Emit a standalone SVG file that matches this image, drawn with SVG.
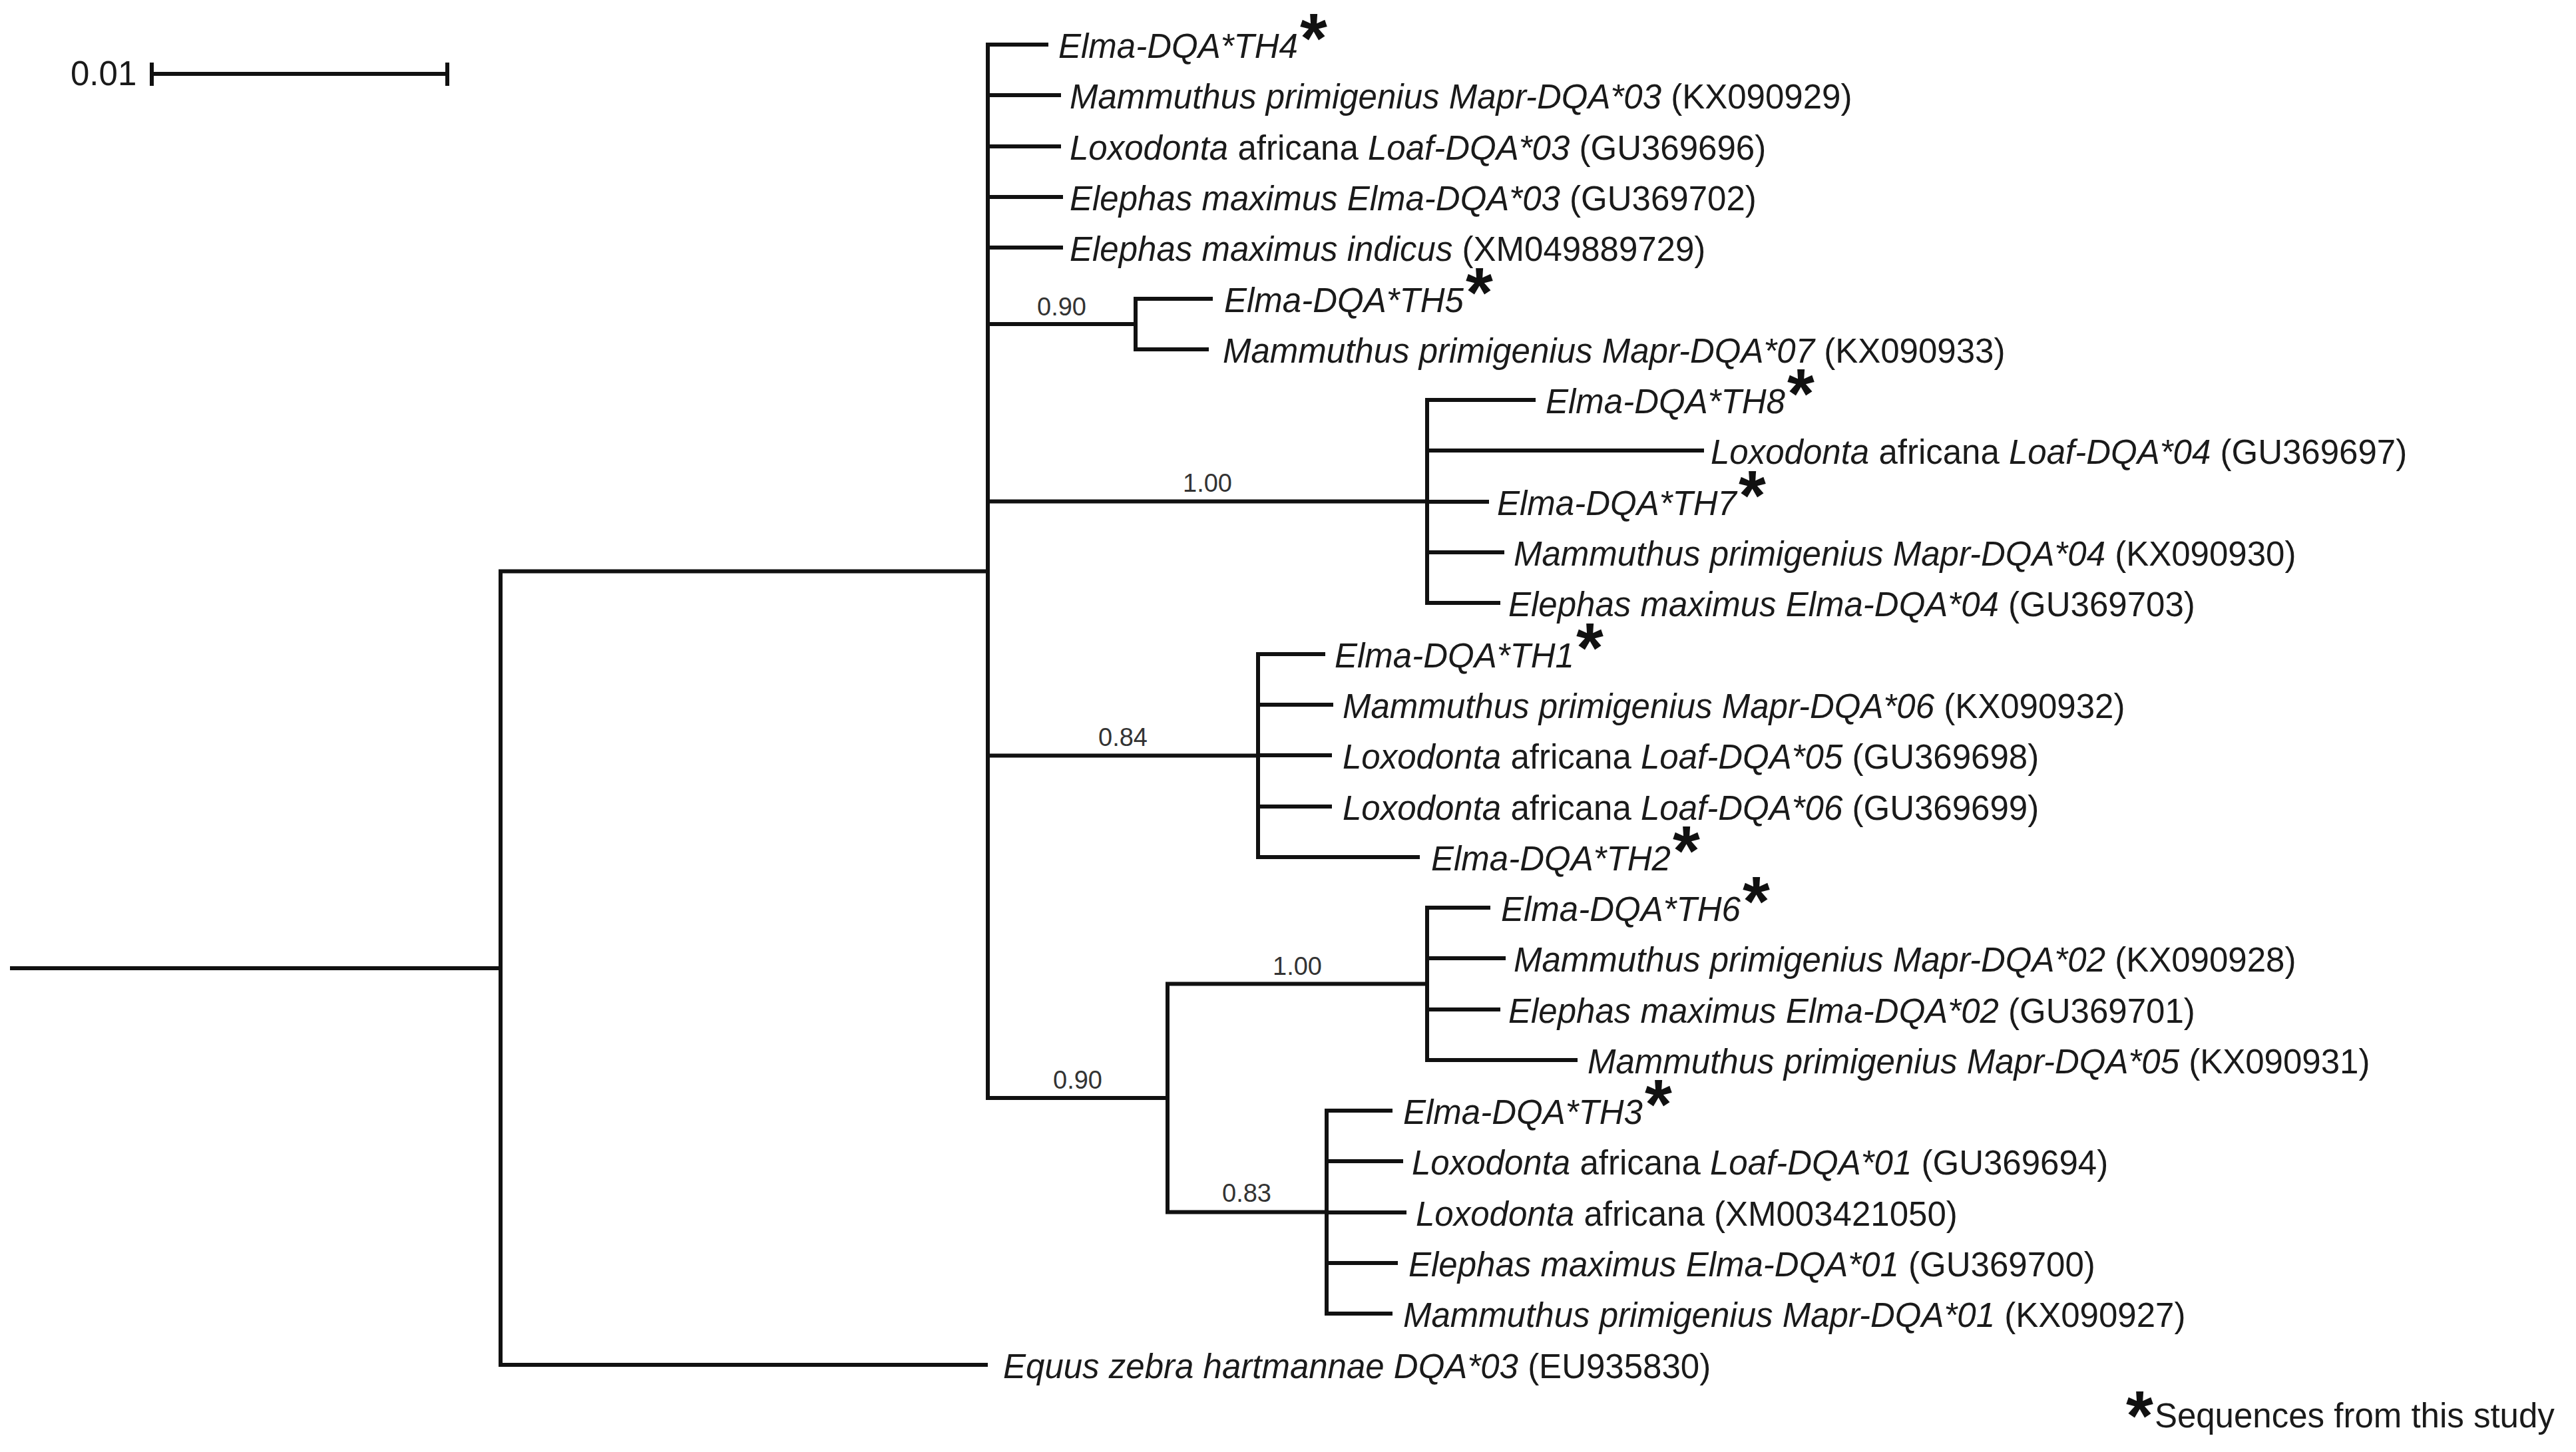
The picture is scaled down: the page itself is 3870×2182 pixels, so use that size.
<svg xmlns="http://www.w3.org/2000/svg" width="3870" height="2182" viewBox="0 0 3870 2182">
<style>
.br{fill:none;stroke:#111;stroke-width:6;stroke-linejoin:miter;stroke-linecap:butt}
.lb{font-family:"Liberation Sans",Arial,sans-serif;font-size:51px;fill:#1a1a1a}
.i{font-style:italic}
.st{font-family:"Liberation Sans",Arial,sans-serif;font-weight:bold;font-size:105px;fill:#111}
.bs{font-family:"Liberation Sans",Arial,sans-serif;font-size:38px;fill:#333;text-anchor:middle}
</style>
<rect width="3870" height="2182" fill="#fff"/>
<g id="scale">
<path class="br" d="M228,111 H672 M228,94 V129 M672,94 V129"/>
<text class="lb" x="106" y="128" font-size="48">0.01</text>
</g>
<g id="connectors">
<path class="br" d="M15,1455 H752"/>
<path class="br" d="M1484,858.5 H752 V2051 H1484"/>
<path class="br" d="M1575,67 H1484 V1650 H1754"/>
<path class="br" d="M1484,143 H1594 M1484,220 H1594 M1484,296 H1597 M1484,372 H1597 M1484,487 H1706 M1484,753.5 H2144 M1484,1135.5 H1890"/>
<path class="br" d="M1822,449 H1706 V525 H1816"/>
<path class="br" d="M2307,601 H2144 V906 H2254 M2144,677 H2560 M2144,754 H2237 M2144,830 H2260"/>
<path class="br" d="M1991,983 H1890 V1288 H2133 M1890,1059 H2003 M1890,1135 H2001 M1890,1212 H2001"/>
<path class="br" d="M2144,1478.5 H1754 V1821.5 H1993"/>
<path class="br" d="M2239,1364 H2144 V1593 H2370 M2144,1440 H2262 M2144,1517 H2254"/>
<path class="br" d="M2092,1669 H1993 V1974 H2092 M1993,1745 H2108 M1993,1822 H2113 M1993,1898 H2100"/>
</g>
<g id="support">
<text class="bs" x="1595" y="474">0.90</text>
<text class="bs" x="1814" y="739">1.00</text>
<text class="bs" x="1687" y="1121">0.84</text>
<text class="bs" x="1949" y="1465">1.00</text>
<text class="bs" x="1619" y="1636">0.90</text>
<text class="bs" x="1873" y="1806">0.83</text>
</g>
<g id="leaf-TH4"><text class="lb" x="1590" y="87"><tspan class="i">Elma-DQA*TH4</tspan><tspan class="st" dx="3" dy="7">*</tspan></text></g>
<g id="leaf-Mapr03"><text class="lb" x="1607" y="163"><tspan class="i">Mammuthus primigenius Mapr-DQA*03</tspan> (KX090929)</text></g>
<g id="leaf-Loaf03"><text class="lb" x="1607" y="240"><tspan class="i">Loxodonta</tspan> africana <tspan class="i">Loaf-DQA*03</tspan> (GU369696)</text></g>
<g id="leaf-Elma03"><text class="lb" x="1607" y="316"><tspan class="i">Elephas maximus Elma-DQA*03</tspan> (GU369702)</text></g>
<g id="leaf-indicus"><text class="lb" x="1607" y="392"><tspan class="i">Elephas maximus indicus</tspan> (XM049889729)</text></g>
<g id="leaf-TH5"><text class="lb" x="1839" y="469"><tspan class="i">Elma-DQA*TH5</tspan><tspan class="st" dx="3" dy="7">*</tspan></text></g>
<g id="leaf-Mapr07"><text class="lb" x="1837" y="545"><tspan class="i">Mammuthus primigenius Mapr-DQA*07</tspan> (KX090933)</text></g>
<g id="leaf-TH8"><text class="lb" x="2322" y="621"><tspan class="i">Elma-DQA*TH8</tspan><tspan class="st" dx="3" dy="7">*</tspan></text></g>
<g id="leaf-Loaf04"><text class="lb" x="2570" y="697"><tspan class="i">Loxodonta</tspan> africana <tspan class="i">Loaf-DQA*04</tspan> (GU369697)</text></g>
<g id="leaf-TH7"><text class="lb" x="2249" y="774"><tspan class="i">Elma-DQA*TH7</tspan><tspan class="st" dx="3" dy="7">*</tspan></text></g>
<g id="leaf-Mapr04"><text class="lb" x="2274" y="850"><tspan class="i">Mammuthus primigenius Mapr-DQA*04</tspan> (KX090930)</text></g>
<g id="leaf-Elma04"><text class="lb" x="2266" y="926"><tspan class="i">Elephas maximus Elma-DQA*04</tspan> (GU369703)</text></g>
<g id="leaf-TH1"><text class="lb" x="2005" y="1003"><tspan class="i">Elma-DQA*TH1</tspan><tspan class="st" dx="3" dy="7">*</tspan></text></g>
<g id="leaf-Mapr06"><text class="lb" x="2017" y="1079"><tspan class="i">Mammuthus primigenius Mapr-DQA*06</tspan> (KX090932)</text></g>
<g id="leaf-Loaf05"><text class="lb" x="2017" y="1155"><tspan class="i">Loxodonta</tspan> africana <tspan class="i">Loaf-DQA*05</tspan> (GU369698)</text></g>
<g id="leaf-Loaf06"><text class="lb" x="2017" y="1232"><tspan class="i">Loxodonta</tspan> africana <tspan class="i">Loaf-DQA*06</tspan> (GU369699)</text></g>
<g id="leaf-TH2"><text class="lb" x="2150" y="1308"><tspan class="i">Elma-DQA*TH2</tspan><tspan class="st" dx="3" dy="7">*</tspan></text></g>
<g id="leaf-TH6"><text class="lb" x="2255" y="1384"><tspan class="i">Elma-DQA*TH6</tspan><tspan class="st" dx="3" dy="7">*</tspan></text></g>
<g id="leaf-Mapr02"><text class="lb" x="2274" y="1460"><tspan class="i">Mammuthus primigenius Mapr-DQA*02</tspan> (KX090928)</text></g>
<g id="leaf-Elma02"><text class="lb" x="2266" y="1537"><tspan class="i">Elephas maximus Elma-DQA*02</tspan> (GU369701)</text></g>
<g id="leaf-Mapr05"><text class="lb" x="2385" y="1613"><tspan class="i">Mammuthus primigenius Mapr-DQA*05</tspan> (KX090931)</text></g>
<g id="leaf-TH3"><text class="lb" x="2108" y="1689"><tspan class="i">Elma-DQA*TH3</tspan><tspan class="st" dx="3" dy="7">*</tspan></text></g>
<g id="leaf-Loaf01"><text class="lb" x="2121" y="1765"><tspan class="i">Loxodonta</tspan> africana <tspan class="i">Loaf-DQA*01</tspan> (GU369694)</text></g>
<g id="leaf-XM003421050"><text class="lb" x="2127" y="1842"><tspan class="i">Loxodonta</tspan> africana (XM003421050)</text></g>
<g id="leaf-Elma01"><text class="lb" x="2116" y="1918"><tspan class="i">Elephas maximus Elma-DQA*01</tspan> (GU369700)</text></g>
<g id="leaf-Mapr01"><text class="lb" x="2108" y="1994"><tspan class="i">Mammuthus primigenius Mapr-DQA*01</tspan> (KX090927)</text></g>
<g id="leaf-Equus"><text class="lb" x="1507" y="2071"><tspan class="i">Equus zebra hartmannae DQA*03</tspan> (EU935830)</text></g>
<g id="legend"><text class="lb" x="3194" y="2145"><tspan class="st" dy="19">*</tspan><tspan dx="2" dy="-19">Sequences from this study</tspan></text></g>
</svg>
